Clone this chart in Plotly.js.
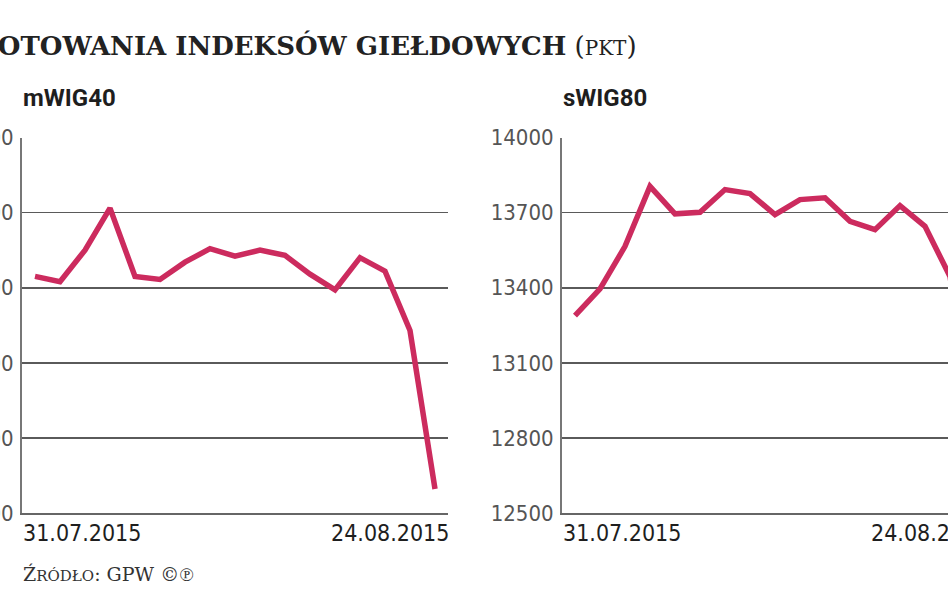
<!DOCTYPE html>
<html>
<head>
<meta charset="utf-8">
<script src="https://cdn.plot.ly/plotly-3.0.1.min.js"></script>
<style>
html,body{margin:0;padding:0;overflow:hidden;background:#fff;width:948px;height:593px;}
#chart{position:absolute;left:-40px;top:0;width:1040px;height:593px;}
</style>
</head>
<body>
<div id="chart"></div>
<script>
// Trading days shown (31.07.2015 – 24.08.2015)
const dates = ['31.07.2015','03.08.2015','04.08.2015','05.08.2015','06.08.2015','07.08.2015',
  '10.08.2015','11.08.2015','12.08.2015','13.08.2015','14.08.2015',
  '17.08.2015','18.08.2015','19.08.2015','20.08.2015','21.08.2015','24.08.2015'];
// mWIG40 closing values (pkt)
const mwig40 = [3815,3808,3850,3906,3815,3811,3834,3852,3842,3850,3843,3818,3797,3840,3822,3743,3532];
// sWIG80 closing values (pkt)
const swig80 = [13288,13395,13565,13805,13695,13701,13792,13776,13692,13752,13759,13665,13632,13728,13645,13445,12800];
const mwigTicks = [3500,3600,3700,3800,3900,4000];
const swigTicks = [12500,12800,13100,13400,13700,14000];
const mainTitle = 'NOTOWANIA INDEKSÓW GIEŁDOWYCH';
const unit = 'PKT';
const panelTitles = ['mWIG40','sWIG80'];
const sourceCap = 'Ź', sourceRest = 'RÓDŁO', sourceTail = ': GPW ©℗';

const W = 1040, H = 593, OFF = 40;
const X = px => (px + OFF) / W;
const Y = py => 1 - py / H;

const lineColor = '#cc2b5e';
const tickFont = {family:'DejaVu Sans Condensed, DejaVu Sans, sans-serif', size:22, color:'#555'};
const dateFont = {family:'DejaVu Sans Condensed, DejaVu Sans, sans-serif', size:23, color:'#1e1e1e'};

function xax(d0,d1){
  return {domain:[X(d0),X(d1)], type:'category', range:[-0.52, dates.length-0.48],
    showgrid:false, zeroline:false, showticklabels:false, ticks:'',
    showline:true, linecolor:'#666', linewidth:2, fixedrange:true};
}
function yax(ticks, anchor){
  return {domain:[Y(513),Y(137.5)], range:[ticks[0], ticks[ticks.length-1]], tickvals:ticks,
    ticktext:ticks.map(String), anchor:anchor, showgrid:true, gridcolor:'#5a5a5a', gridwidth:1.6,
    zeroline:false, showline:true, linecolor:'#777', linewidth:2, ticks:'', ticklabelstandoff:2,
    tickfont:tickFont, fixedrange:true};
}

const data = [
  {x:dates, y:mwig40, xaxis:'x', yaxis:'y', type:'scatter', mode:'lines',
   line:{color:lineColor, width:5.5}, hoverinfo:'skip'},
  {x:dates, y:swig80, xaxis:'x2', yaxis:'y2', type:'scatter', mode:'lines',
   line:{color:lineColor, width:5.5}, hoverinfo:'skip'}
];

const panelFont = {family:'Roboto, Liberation Sans, sans-serif', size:24, color:'#1e1e1e'};
const ann = [
  {text:'<b>'+mainTitle+'</b> (<span style="font-size:20px">'+unit+'</span>)', x:X(-28), y:Y(46),
   xanchor:'left', yanchor:'middle', font:{family:'DejaVu Serif, serif', size:26, color:'#222'}},
  {text:'<b>'+panelTitles[0]+'</b>', x:X(21), y:Y(98), xanchor:'left', yanchor:'middle', font:panelFont},
  {text:'<b>'+panelTitles[1]+'</b>', x:X(561), y:Y(98), xanchor:'left', yanchor:'middle', font:panelFont},
  {text:dates[0], x:X(21), y:Y(533), xanchor:'left', yanchor:'middle', font:dateFont},
  {text:dates[dates.length-1], x:X(451), y:Y(533), xanchor:'right', yanchor:'middle', font:dateFont},
  {text:dates[0], x:X(561), y:Y(533), xanchor:'left', yanchor:'middle', font:dateFont},
  {text:dates[dates.length-1], x:X(991), y:Y(533), xanchor:'right', yanchor:'middle', font:dateFont},
  {text:sourceCap+'<span style="font-size:15px">'+sourceRest+'</span>'+sourceTail, x:X(21), y:Y(574),
   xanchor:'left', yanchor:'middle', font:{family:'DejaVu Serif, serif', size:19, color:'#333'}}
].map(a => Object.assign({xref:'paper', yref:'paper', showarrow:false}, a));

const layout = {
  width:W, height:H, margin:{l:0,r:0,t:0,b:0}, paper_bgcolor:'#fff', plot_bgcolor:'rgba(0,0,0,0)',
  showlegend:false,
  xaxis:xax(22,448), yaxis:yax(mwigTicks,'x'),
  xaxis2:xax(562,988), yaxis2:yax(swigTicks,'x2'),
  annotations:ann
};
Plotly.newPlot('chart', data, layout, {staticPlot:true, displayModeBar:false});
</script>
</body>
</html>
